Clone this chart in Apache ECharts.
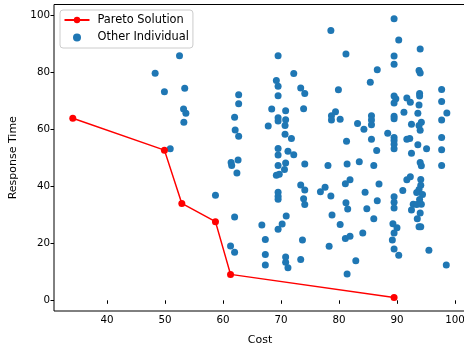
<!DOCTYPE html>
<html>
<head>
<meta charset="utf-8">
<script src="https://cdn.jsdelivr.net/npm/echarts@6/dist/echarts.min.js"></script>
<style>
  html, body { margin: 0; padding: 0; background: #fff; }
  #chart { width: 464px; height: 354px; }
</style>
</head>
<body>
<div id="chart"></div>
<script>
// pareto front
var paretoCost = [34.1, 49.9, 52.9, 58.7, 61.3, 89.5]
var paretoTime = [63.9, 52.7, 34.0, 27.6, 9.1, 1.0]

// the other individuals, grouped roughly by column
var otherCost = [
  52.5, 48.3, 49.9, 53.4, 53.2, 53.6, 53.25, 50.9, 58.7,
  62.7, 62.7, 62.0, 62.1, 62.7, 62.6, 61.4, 61.5, 62.4, 62.0, 61.3, 62.0,
  66.7, 67.3, 67.3, 67.3, 67.8, 68.4,
  69.5, 69.2, 69.5, 69.5, 69.5, 69.5, 69.5, 69.5, 69.5, 69.2, 69.7, 69.5, 69.5, 69.5, 69.5,
  70.8, 70.8, 70.7, 70.7, 71.8, 71.2, 72.2, 70.8, 70.6, 70.9, 70.2, 70.8, 70.8, 71.2, 72.2,
  73.4, 74.1, 73.9, 74.1, 73.4, 74.1, 73.9, 74.1, 73.7, 73.4,
  76.8, 77.6, 78.6, 78.1, 78.6, 79.9, 79.4, 78.7, 78.7, 80.2, 78.8, 80.2, 78.3, 81.2, 81.3, 81.4, 81.9, 81.1, 81.2, 81.5, 81.1, 81.9, 81.4, 82.9,
  83.2, 83.5, 84.1, 84.3, 84.5, 84.8, 85.6, 85.6, 85.6, 85.6, 85.4, 86.6, 86.5, 86.0, 86.9, 86.6, 86.0, 88.4,
  89.5, 90.3, 89.5, 89.5, 89.5, 89.8, 89.5, 89.5, 89.5, 89.5, 89.5, 89.5, 89.5, 89.5, 89.5, 89.5, 89.3, 90.0, 89.5, 89.2, 89.5, 90.3,
  91.0, 91.2, 91.7, 92.3, 91.7, 92.2, 92.5, 92.5, 91.7, 92.3, 92.8, 92.5,
  94.0, 93.8, 94.0, 93.9, 93.9, 93.8, 93.6, 94.2, 93.8, 94.0, 93.6, 95.1, 94.0, 94.2, 94.1, 94.1, 93.8, 93.4, 94.4, 93.9, 93.4, 94.2, 94.0, 93.5, 93.8, 94.1, 95.5,
  97.7, 97.7, 98.6, 97.7, 97.7, 97.7, 97.7, 98.5
]
var otherTime = [
  85.8, 79.7, 73.2, 74.4, 67.1, 65.6, 62.5, 53.2, 36.9,
  72.1, 69.0, 64.2, 59.8, 57.6, 49.2, 48.4, 47.3, 44.7, 29.2, 19.1, 16.9,
  26.4, 21.3, 16.1, 12.4, 61.2, 67.1,
  85.8, 77.1, 75.1, 71.8, 64.1, 62.9, 53.3, 51.0, 47.3, 43.9, 44.2, 37.9, 36.5, 35.5, 24.9,
  66.5, 63.4, 61.3, 58.3, 56.8, 52.3, 51.1, 48.2, 45.9, 29.6, 26.8, 15.2, 13.4, 11.4, 79.6,
  74.5, 72.6, 67.2, 47.8, 40.5, 38.7, 35.6, 33.6, 21.2, 14.3,
  38.1, 39.7, 36.6, 47.3, 94.7, 73.9, 66.2, 64.8, 63.3, 63.5, 29.9, 26.6, 19.0, 86.4, 55.8, 47.8, 42.3, 40.9, 34.2, 32.0, 21.7, 22.5, 9.2, 13.9,
  62.0, 48.6, 23.6, 60.0, 37.9, 32.1, 64.8, 63.3, 61.6, 56.5, 76.5, 80.9, 52.6, 47.3, 40.8, 34.9, 28.6, 58.6,
  98.8, 91.3, 85.7, 82.8, 71.7, 70.7, 69.2, 64.6, 63.7, 57.1, 56.1, 54.8, 53.2, 36.3, 34.4, 32.4, 26.9, 25.5, 23.6, 21.2, 18.0, 15.8,
  38.5, 66.0, 71.0, 69.5, 56.5, 56.8, 51.6, 61.8, 42.3, 43.4, 33.7, 31.7,
  88.2, 80.6, 79.8, 72.6, 71.7, 68.5, 65.6, 62.5, 61.3, 59.7, 54.6, 53.2, 48.4, 47.2, 42.4, 40.4, 38.9, 37.8, 37.1, 35.4, 33.6, 33.7, 30.6, 28.6, 25.8, 25.8, 17.6,
  74.0, 69.8, 65.7, 63.3, 57.1, 52.8, 47.3, 12.4
]

var xTicks = [40, 50, 60, 70, 80, 90, 100]
var yTicks = [0, 20, 40, 60, 80, 100]

var font = 'DejaVu Sans'

function zip(a, b) {
  return a.map(function (v, i) { return [v, b[i]] })
}

var chart = echarts.init(document.getElementById('chart'))

chart.setOption({
  animation: false,
  backgroundColor: '#fff',
  textStyle: { fontFamily: font },
  grid: {
    left: 54,
    top: 4.5,
    width: 412,
    height: 306.5,
    outerBoundsMode: 'none',
    containLabel: false,
    show: true,
    borderColor: '#000',
    borderWidth: 1
  },
  legend: {
    orient: 'vertical',
    left: 60,
    top: 10,
    padding: [4, 4, 4.5, 3.5],
    itemGap: 5.5,
    itemWidth: 25,
    itemHeight: 8,
    backgroundColor: 'rgba(255,255,255,0.8)',
    borderColor: '#cccccc',
    borderWidth: 1,
    borderRadius: 3,
    textStyle: { fontFamily: font, fontSize: 11.4, lineHeight: 12, color: '#000', padding: [0, 0, 0, 3] },
    data: [
      { name: 'Pareto Solution' },
      { name: 'Other Individual', icon: 'circle' }
    ]
  },
  xAxis: {
    type: 'value',
    min: 30.86,
    max: 101.9,
    name: 'Cost',
    nameLocation: 'middle',
    nameGap: 24,
    nameTextStyle: { fontFamily: font, fontSize: 11, color: '#000' },
    axisLine: { show: false },
    axisTick: { show: true, length: 3.5, lineStyle: { color: '#000', width: 1 }, customValues: xTicks },
    axisLabel: { fontFamily: font, fontSize: 10.3, color: '#000', margin: 4, customValues: xTicks, hideOverlap: false },
    splitLine: { show: false }
  },
  yAxis: {
    type: 'value',
    min: -3.75,
    max: 103.8,
    name: 'Response Time',
    nameLocation: 'middle',
    nameGap: 35,
    nameTextStyle: { fontFamily: font, fontSize: 11, color: '#000' },
    axisLine: { show: false },
    axisTick: { show: true, length: 3.5, lineStyle: { color: '#000', width: 1 }, customValues: yTicks },
    axisLabel: { fontFamily: font, fontSize: 10.3, color: '#000', margin: 4, customValues: yTicks },
    splitLine: { show: false }
  },
  series: [
    {
      name: 'Pareto Solution',
      type: 'line',
      z: 3,
      data: zip(paretoCost, paretoTime),
      symbol: 'circle',
      symbolSize: 7,
      lineStyle: { color: '#ff0000', width: 1.5 },
      itemStyle: { color: '#ff0000' }
    },
    {
      name: 'Other Individual',
      type: 'scatter',
      z: 2,
      data: zip(otherCost, otherTime),
      symbolSize: 7,
      itemStyle: { color: '#1f77b4', opacity: 1 }
    }
  ]
})
</script>
</body>
</html>
